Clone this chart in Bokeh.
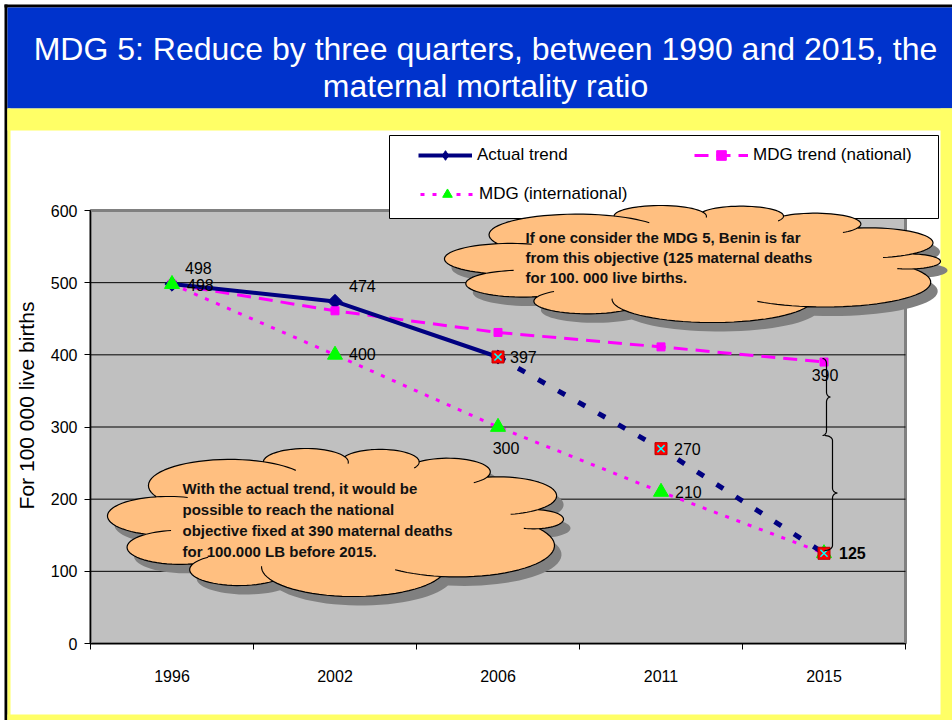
import numpy as np
from bokeh.plotting import figure
from bokeh.models import (ColumnDataSource, Label, Legend, LegendItem, FixedTicker, Range1d)
from bokeh.core.properties import value
from bokeh.embed import file_html
from bokeh.resources import INLINE

# ---------------- data ----------------
years = ["1996", "2002", "2006", "2011", "2015"]
actual_years = ["1996", "2002", "2006"]
actual_values = [498, 474, 397]
projection_years = ["2006", "2011", "2015"]
projection_values = [397, 270, 125]
national_values = [498, 461, 431, 411, 390]
international_values = [498, 400, 300, 210, 125]
y_ticks = [0, 100, 200, 300, 400, 500, 600]

title_lines = ["MDG 5: Reduce by three quarters, between 1990 and 2015, the",
               "maternal mortality ratio"]
y_label = "For 100 000 live births"
legend_labels = ["Actual trend", "MDG trend (national)", "MDG (international)"]
note_top = ["If one consider the MDG 5, Benin is far",
            "from this objective (125 maternal deaths",
            "for 100. 000 live births."]
note_bottom = ["With the actual trend, it would be",
               "possible to reach the national",
               "objective fixed at 390 maternal deaths",
               "for 100.000 LB before 2015."]

FONT = "Liberation Sans"
NAVY = "#000080"
MAGENTA = "#FF00FF"
GREEN = "#00FF00"
W, H = 952, 720

xpos = {y: i + 0.5 for i, y in enumerate(years)}
Y_MAX = y_ticks[-1]

# page pixel -> data (plot area spans x 90..905, y 210..643 on the page)
FL, FR, FT, FB = 90, 905, 210, 643
def dx(X):
    return (X - FL) / (FR - FL) * len(years)
def dy(Y):
    return (FB - Y) / (FB - FT) * Y_MAX

p = figure(width=W, height=H, x_range=Range1d(dx(0), dx(W)), y_range=Range1d(dy(H), dy(0)),
           output_backend="svg", toolbar_location=None, title=None,
           min_border_left=0, min_border_right=0, min_border_top=0, min_border_bottom=0,
           background_fill_color="white", border_fill_color="white", outline_line_color=None)
p.xgrid.visible = False
p.ygrid.visible = False

# axes placed at the plot-area edges
p.xaxis.fixed_location = 0
p.xaxis.bounds = (0, len(years))
p.xaxis.ticker = FixedTicker(ticks=[xpos[y] for y in years], minor_ticks=list(range(len(years) + 1)))
p.xaxis.major_label_overrides = {xpos[y]: y for y in years}
p.xaxis.major_tick_line_color = None
p.xaxis.major_tick_out = 0
p.xaxis.major_tick_in = 0
p.xaxis.minor_tick_line_color = "black"
p.xaxis.minor_tick_out = 6
p.xaxis.minor_tick_in = 0
p.xaxis.major_label_standoff = 20
p.xaxis.major_label_text_font = FONT
p.xaxis.major_label_text_font_size = "16px"
p.xaxis.major_label_text_color = "black"
p.xaxis.axis_line_color = "black"

p.yaxis.fixed_location = 0
p.yaxis.bounds = (0, Y_MAX)
p.yaxis.ticker = FixedTicker(ticks=y_ticks)
p.yaxis.minor_tick_line_color = None
p.yaxis.major_tick_out = 6
p.yaxis.major_tick_in = 0
p.yaxis.major_tick_line_color = "black"
p.yaxis.major_label_standoff = 7
p.yaxis.major_label_text_font = FONT
p.yaxis.major_label_text_font_size = "16px"
p.yaxis.major_label_text_color = "black"
p.yaxis.axis_line_color = "black"

# ---------------- page decorations ----------------
def rect_px(l, r, t, b, color, line=None, lw=1):
    p.quad(left=dx(l), right=dx(r), top=dy(t), bottom=dy(b), fill_color=color,
           line_color=line, line_width=lw)

rect_px(4, W + 5, 4, 7, "black")
rect_px(4, 7, 4, H + 5, "black")
rect_px(7, W + 5, 7, 108, "#0033CC")
rect_px(7, W + 5, 108, 130, "#FFFF66")
rect_px(7, 10, 108, H + 5, "#FFFF66")
rect_px(940, W + 5, 108, H + 5, "#FFFF66")
rect_px(7, W + 5, 714, H + 5, "#FFFF66")

# plot area
p.quad(left=0, right=len(years), bottom=0, top=Y_MAX, fill_color="#C0C0C0",
       line_color="#808080", line_width=3)
grid_vals = y_ticks[1:-1]
p.segment(x0=[0] * len(grid_vals), x1=[len(years)] * len(grid_vals), y0=grid_vals, y1=grid_vals,
          line_color="black", line_width=1)

# legend frame
rect_px(389, 938, 135, 218, "white", line="black")

# ---------------- clouds ----------------
NODES = [-158, -113, -89, -67, -43, -10, 7, 60, 110, 138, 168]
KS = [0.7, 0.8, 0.8, 0.8, 0.75, 0.85, 0.65, 0.65, 0.8, 0.8, 0.75]

def cloud_shape(x0, x1, y0, y1):
    a = np.radians(NODES)
    pts = np.c_[np.cos(a), np.sin(a)]
    n = len(pts)
    ox, oy, strokes = [], [], []
    for i in range(n):
        P, Q = pts[i], pts[(i + 1) % n]
        M = (P + Q) / 2
        h = np.hypot(*(Q - P)) / 2
        nv = M / np.hypot(*M)
        s = KS[i] * h
        R = (h * h + s * s) / (2 * s)
        C = M + nv * (s - R)
        a0 = np.arctan2(P[1] - C[1], P[0] - C[0])
        a1 = np.arctan2(Q[1] - C[1], Q[0] - C[0])
        d = (a1 - a0 + np.pi) % (2 * np.pi) - np.pi
        t = np.linspace(a0, a0 + d, 28)
        ox.extend(C[0] + R * np.cos(t)); oy.extend(C[1] + R * np.sin(t))
        te = np.linspace(a0 + d, a0 + d + np.sign(d) * np.radians(30), 8)
        strokes.append((C[0] + R * np.cos(te), C[1] + R * np.sin(te)))
    ox, oy = np.array(ox), np.array(oy)
    mnx, mxx, mny, mxy = ox.min(), ox.max(), oy.min(), oy.max()
    tx = lambda v: x0 + (v - mnx) / (mxx - mnx) * (x1 - x0)
    ty = lambda v: y0 + (v - mny) / (mxy - mny) * (y1 - y0)
    return tx(ox), ty(oy), [(tx(sx), ty(sy)) for sx, sy in strokes]

def draw_cloud(x0, x1, y0, y1, shadow=(7, 9)):
    X, Y, strokes = cloud_shape(x0, x1, y0, y1)
    p.patch([dx(v + shadow[0]) for v in X], [dy(v + shadow[1]) for v in Y],
            fill_color="#808080", line_color=None)
    p.patch([dx(v) for v in X], [dy(v) for v in Y], fill_color="#FFBF80",
            line_color="black", line_width=1.2)
    p.multi_line([[dx(v) for v in sx] for sx, sy in strokes],
                 [[dy(v) for v in sy] for sx, sy in strokes], line_color="black", line_width=1.1)

draw_cloud(444, 940, 205, 322)
draw_cloud(107, 563, 448, 596)

# ---------------- series ----------------
lx = [xpos[y] for y in years]
nat_line = p.line(lx, national_values, line_color=MAGENTA, line_width=3, line_dash="14 8")
int_line = p.line(lx, international_values, line_color=MAGENTA, line_width=3, line_dash="4 8")
act_line = p.line([xpos[y] for y in actual_years], actual_values, line_color=NAVY, line_width=4)
proj_line = p.line([xpos[y] for y in projection_years], projection_values, line_color=NAVY,
                   line_width=5, line_dash="8 15")

ax = [xpos[y] for y in actual_years]
act_key = p.scatter(ax, actual_values, marker="diamond", size=12, fill_color=NAVY, line_color=NAVY)
p.scatter(ax, actual_values, marker="square", angle=np.pi / 4, size=10,
          fill_color=NAVY, line_color=NAVY)
nat_marks = p.scatter(lx, national_values, marker="square", size=8,
                      fill_color=MAGENTA, line_color=MAGENTA)
int_marks = p.scatter(lx, international_values, marker="triangle", size=15,
                      fill_color=GREEN, line_color=GREEN)
px_ = [xpos[y] for y in projection_years]
p.scatter(px_, projection_values, marker="square", size=12,
          fill_color="#FF0000", line_color="#C00000", line_width=1)
p.scatter(px_, projection_values, marker="x", size=10, line_color="#00FFFF", line_width=1.5)

# braces beside 2015
def brace(xe, xm, xt, yt, yb, r=5):
    ym = (yt + yb) / 2
    X, Y = [], []
    def arc(cx, cy, rx, ry, a0, a1):
        t = np.linspace(a0, a1, 10)
        X.extend(cx + rx * np.cos(t)); Y.extend(cy + ry * np.sin(t))
    arc(xe, yt + r, xm - xe, r, -np.pi / 2, 0)
    arc(xt, ym - r, xt - xm, r, np.pi, np.pi / 2)
    arc(xt, ym + r, xt - xm, r, 3 * np.pi / 2, np.pi)
    arc(xe, yb - r, xm - xe, r, 0, np.pi / 2)
    return [dx(v) for v in X], [dy(v) for v in Y]

for b in (brace(822, 826, 830, 358, 435), brace(824, 832, 837, 435, 550)):
    p.line(b[0], b[1], line_color="black", line_width=1.2)

# ---------------- data labels ----------------
left_specs = [
    (actual_years[0], actual_values[0], 13, -16),
    (years[0], national_values[0], 15, 1),
    (actual_years[1], actual_values[1], 14, -15),
    (years[1], international_values[1], 14, -1),
    (actual_years[2], actual_values[2], 12, 0),
    (projection_years[1], projection_values[1], 13, 0),
    (years[3], international_values[3], 14, 0),
]
center_specs = [
    (years[2], international_values[2], 8, 21),
    (years[4], national_values[4], 1, 13),
]
bold_specs = [(projection_years[2], projection_values[2], 15, 0)]

def labels(specs, align, style):
    src = ColumnDataSource(dict(x=[xpos[s[0]] for s in specs], y=[s[1] for s in specs],
                                t=[str(s[1]) for s in specs], xo=[s[2] for s in specs],
                                yo=[s[3] for s in specs]))
    p.text("x", "y", text="t", x_offset="xo", y_offset="yo", source=src, text_align=align,
           text_baseline="middle", text_font=value(FONT), text_font_size="16px",
           text_font_style=style, text_color="black")

labels(left_specs, "left", "normal")
labels(center_specs, "center", "normal")
labels(bold_specs, "left", "bold")

# ---------------- legends ----------------
common = dict(border_line_color=None, background_fill_alpha=0, padding=0, spacing=0, margin=0,
              glyph_width=54, glyph_height=24, label_height=20, label_standoff=5,
              label_text_font=FONT, label_text_font_size="17px", label_text_color="black")
leg_a = Legend(items=[LegendItem(label=legend_labels[0], renderers=[act_line, act_key]),
                      LegendItem(label=legend_labels[1], renderers=[nat_line, nat_marks])],
               orientation="horizontal", location=(418, H - 167), label_width=217, **common)
leg_b = Legend(items=[LegendItem(label=legend_labels[2], renderers=[int_line, int_marks])],
               orientation="horizontal", location=(420, H - 206), **common)
p.add_layout(leg_a)
p.add_layout(leg_b)

# ---------------- texts ----------------
p.add_layout(Label(x=dx(26), y=dy(405), text=y_label, angle=np.pi / 2, text_align="center",
                   text_baseline="middle", text_font=FONT, text_font_size="21px",
                   text_color="black"))
for i, line in enumerate(title_lines):
    p.add_layout(Label(x=dx(485), y=dy(48 + 37 * i), text=line, text_align="center",
                       text_baseline="alphabetic", text_font=FONT, text_font_size="32px",
                       text_color="white"))
for i, line in enumerate(note_top):
    p.add_layout(Label(x=dx(525), y=dy(237 + 20 * i), text=line, text_align="left",
                       text_baseline="middle", text_font=FONT, text_font_size="15px",
                       text_font_style="bold", text_color="#111111"))
for i, line in enumerate(note_bottom):
    p.add_layout(Label(x=dx(182), y=dy(488 + 21 * i), text=line, text_align="left",
                       text_baseline="middle", text_font=FONT, text_font_size="15px",
                       text_font_style="bold", text_color="#111111"))

open("out.html", "w").write(file_html(p, INLINE))
